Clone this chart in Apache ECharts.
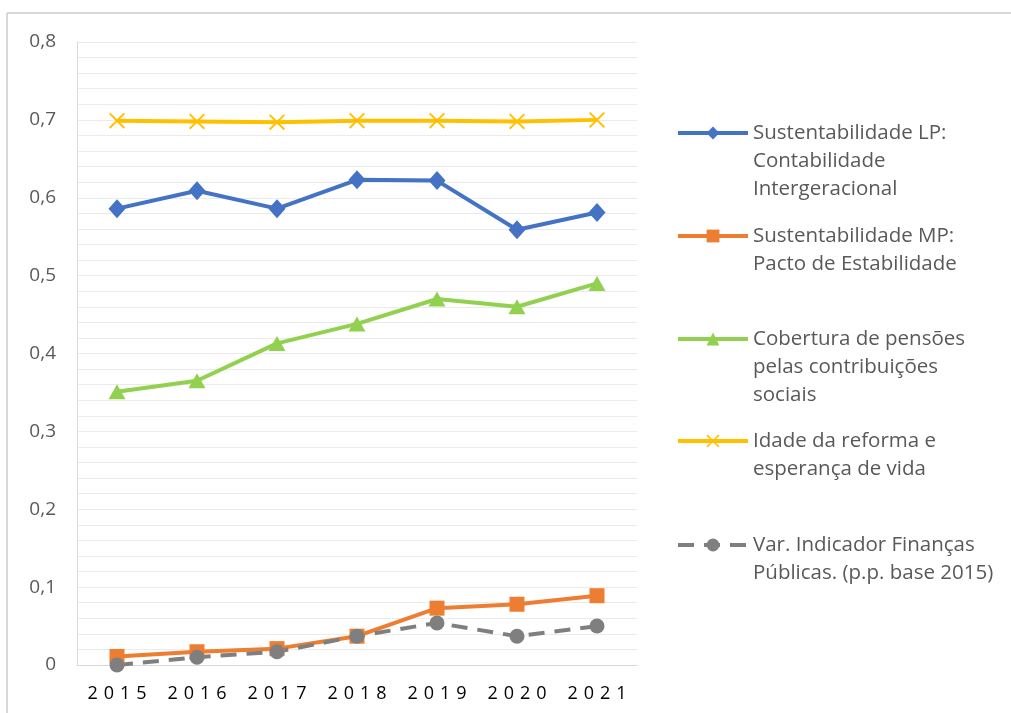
<!DOCTYPE html>
<html>
<head>
<meta charset="utf-8">
<script src="https://cdn.jsdelivr.net/npm/echarts@6/dist/echarts.min.js"></script>
<style>
html,body{margin:0;padding:0;background:#fff;}
#chart{width:1011px;height:713px;}
</style>
</head>
<body>
<div id="chart"></div>
<script>
const years = ['2015','2016','2017','2018','2019','2020','2021'];
const sustLP = [0.586, 0.609, 0.586, 0.623, 0.622, 0.559, 0.581];
const sustMP = [0.011, 0.017, 0.021, 0.037, 0.073, 0.078, 0.089];
const cobertura = [0.351, 0.365, 0.413, 0.438, 0.470, 0.460, 0.490];
const idade = [0.699, 0.698, 0.697, 0.699, 0.699, 0.698, 0.700];
const varIndicador = [0.000, 0.010, 0.017, 0.037, 0.054, 0.037, 0.050];

const names = [
  'Sustentabilidade LP:\nContabilidade\nIntergeracional',
  'Sustentabilidade MP:\nPacto de Estabilidade',
  'Cobertura de pensões\npelas contribuições\nsociais',
  'Idade da reforma e\nesperança de vida',
  'Var. Indicador Finanças\nPúblicas. (p.p. base 2015)'
];

const xMark = 'path://M0,1.2 L1.2,0 L7,5.8 L12.8,0 L14,1.2 L8.2,7 L14,12.8 L12.8,14 L7,8.2 L1.2,14 L0,12.8 L5.8,7 Z';

const LH = 28;
const legendIconY = [133, 236, 339, 441, 545];
const legends = names.map((n, i) => {
  const lines = n.split('\n').length;
  return {
    data: [n],
    left: 676,
    top: legendIconY[i] - (2 * lines - 1) * LH / 2,
    padding: 0,
    itemWidth: 70,
    itemHeight: 16,
    itemGap: 0,
    selectedMode: false,
    lineStyle: {width: 4},
    formatter: nm => ' \n'.repeat(lines - 1) + nm,
    textStyle: {
      fontFamily: 'Open Sans',
      fontSize: 20.5,
      color: '#595959',
      lineHeight: LH
    }
  };
});

const chart = echarts.init(document.getElementById('chart'), null, {renderer: 'canvas'});
const option = {
  backgroundColor: '#ffffff',
  animation: false,
  legend: legends,
  grid: {left: 77, right: 374, top: 42, bottom: 48, containLabel: false},
  xAxis: {
    type: 'category',
    data: years,
    boundaryGap: true,
    axisLine: {show: true, lineStyle: {color: '#d9d9d9', width: 1}},
    axisTick: {show: false},
    axisLabel: {
      margin: 20,
      color: '#000000',
      fontFamily: 'Open Sans',
      fontSize: 18,
      formatter: v => v.split('').join('\u2009\u2009')
    }
  },
  yAxis: {
    type: 'value',
    min: 0,
    max: 0.8,
    interval: 0.1,
    axisLine: {show: true, lineStyle: {color: '#d9d9d9', width: 1}},
    axisTick: {show: false},
    splitLine: {show: true, lineStyle: {color: '#ebebeb', width: 1}},
    minorTick: {show: false, splitNumber: 5},
    minorSplitLine: {show: true, lineStyle: {color: '#ebebeb', width: 1}},
    axisLabel: {
      margin: 21,
      color: '#595959',
      fontFamily: 'Open Sans',
      fontSize: 19,
      formatter: v => (Math.round(v * 10) / 10).toString().replace('.', ',')
    }
  },
  graphic: [
    {type: 'line', shape: {x1: 7, y1: 13, x2: 1011, y2: 13}, style: {stroke: '#d9d9d9', lineWidth: 2}, silent: true},
    {type: 'line', shape: {x1: 7, y1: 13, x2: 7, y2: 713}, style: {stroke: '#d9d9d9', lineWidth: 2}, silent: true}
  ],
  series: [
    {
      name: names[0], type: 'line', data: sustLP,
      symbol: 'diamond', symbolSize: [17, 19],
      lineStyle: {color: '#4472C4', width: 4},
      itemStyle: {color: '#4472C4'}
    },
    {
      name: names[1], type: 'line', data: sustMP,
      symbol: 'rect', symbolSize: 15,
      lineStyle: {color: '#ED7D31', width: 4},
      itemStyle: {color: '#ED7D31'}
    },
    {
      name: names[2], type: 'line', data: cobertura,
      symbol: 'triangle', symbolSize: [17, 15],
      lineStyle: {color: '#92D050', width: 4},
      itemStyle: {color: '#92D050'}
    },
    {
      name: names[3], type: 'line', data: idade,
      symbol: xMark, symbolSize: 16,
      lineStyle: {color: '#FFC000', width: 4},
      itemStyle: {color: '#FFC000'}
    },
    {
      name: names[4], type: 'line', data: varIndicador,
      symbol: 'circle', symbolSize: 15,
      lineStyle: {color: '#7F7F7F', width: 4, type: [16, 10]},
      itemStyle: {color: '#7F7F7F'}
    }
  ]
};
chart.setOption(option);
</script>
</body>
</html>
